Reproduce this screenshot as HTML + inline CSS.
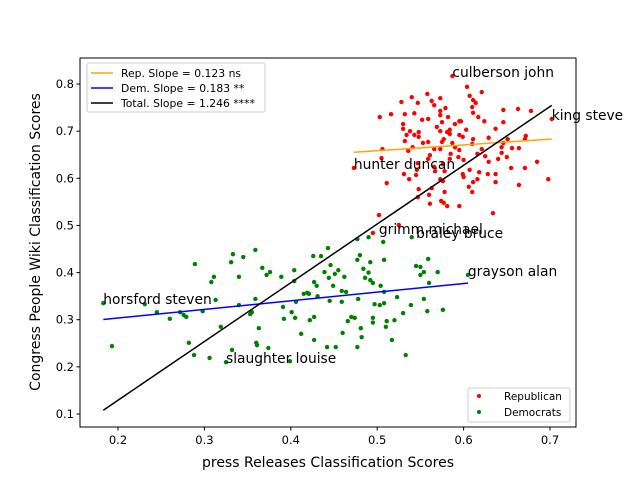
<!DOCTYPE html>
<html><head><meta charset="utf-8"><style>
body{margin:0;background:#fff}
text{font-family:"DejaVu Sans","Liberation Sans",sans-serif}
</style></head><body>
<svg id="chart" width="640" height="480" xmlns="http://www.w3.org/2000/svg">
<rect width="640" height="480" fill="#fff"/>
<g id="marks"></g>
<g id="axes"></g>
</svg>
<script>
const xTicks=[0.2,0.3,0.4,0.5,0.6,0.7];
const yTicks=[0.1,0.2,0.3,0.4,0.5,0.6,0.7,0.8];
const repX=[.587,.604,.621,.558,.540,.573,.607,.528,.547,.563,.611,.614,.566,.579,.610,.646,.663,.678,.516,.532,.543,.573,.611,.503,.573,.582,.617,.552,.559,.575,.595,.597,.624,.646,.530,.702,.590,.569,.530,.538,.548,.573,.581,.584,.603,.637,.534,.543,.548,.584,.595,.599,.577,.611,.672,.671,.651,.629,.532,.559,.553,.575,.587,.610,.646,.541,.566,.573,.590,.595,.621,.644,.656,.664,.506,.536,.561,.585,.616,.644,.625,.650,.594,.505,.559,.584,.600,.629,.640,.685,.473,.547,.566,.576,.655,.671,.546,.567,.578,.607,.618,.531,.545,.599,.628,.637,.537,.573,.600,.616,.698,.511,.576,.611,.637,.664,.548,.563,.606,.578,.610,.547,.560,.574,.577,.561,.581,.595,.634,.502,.525,.495];
const repY=[.817,.794,.783,.779,.772,.770,.775,.762,.760,.764,.766,.760,.755,.749,.751,.745,.747,.743,.736,.736,.738,.743,.739,.730,.734,.730,.730,.724,.726,.719,.721,.721,.721,.719,.715,.726,.715,.709,.705,.700,.698,.700,.698,.703,.703,.705,.692,.692,.688,.694,.692,.688,.683,.683,.690,.683,.683,.686,.679,.677,.675,.677,.675,.673,.675,.666,.662,.662,.666,.660,.662,.666,.664,.664,.662,.658,.649,.652,.652,.654,.647,.645,.645,.643,.641,.641,.639,.635,.641,.635,.622,.632,.624,.630,.622,.622,.618,.615,.615,.618,.613,.609,.607,.609,.609,.609,.598,.598,.603,.598,.598,.590,.594,.592,.592,.586,.577,.579,.582,.571,.571,.560,.565,.552,.548,.546,.541,.541,.526,.522,.501,.484];
const demX=[.183,.193,.231,.245,.260,.272,.276,.279,.282,.288,.289,.298,.306,.308,.311,.313,.319,.325,.332,.331,.333,.340,.345,.340,.353,.355,.359,.359,.360,.361,.363,.367,.372,.376,.374,.389,.391,.392,.399,.401,.404,.404,.405,.406,.412,.415,.419,.421,.422,.426,.427,.427,.427,.430,.431,.435,.439,.442,.443,.444,.445,.446,.449,.451,.452,.455,.459,.459,.460,.462,.464,.466,.470,.474,.477,.477,.477,.478,.480,.481,.482,.484,.486,.490,.490,.492,.492,.495,.495,.495,.497,.503,.504,.507,.508,.508,.508,.510,.511,.517,.520,.523,.530,.533,.539,.540,.545,.550,.550,.554,.554,.558,.559,.560,.570,.576,.605];
const demY=[.335,.244,.333,.316,.302,.316,.310,.306,.251,.225,.418,.318,.219,.380,.391,.342,.285,.210,.236,.422,.439,.391,.433,.331,.312,.316,.448,.344,.251,.246,.282,.410,.395,.401,.240,.391,.327,.302,.212,.316,.405,.382,.304,.338,.270,.355,.357,.355,.299,.435,.380,.306,.257,.372,.350,.435,.401,.242,.452,.389,.340,.416,.372,.397,.242,.405,.361,.338,.272,.391,.359,.297,.306,.304,.471,.242,.427,.344,.437,.282,.263,.408,.389,.400,.475,.422,.384,.378,.304,.294,.333,.331,.372,.465,.335,.427,.359,.285,.297,.257,.299,.348,.314,.225,.331,.475,.414,.395,.412,.344,.401,.318,.429,.378,.401,.321,.395];
const repSlope=0.123, repIntercept=0.597;
const demSlope=0.183, demIntercept=0.267;
const totSlope=1.246, totIntercept=-0.120;
const names=["culberson john","king steve","hunter duncan","grimm michael","braley bruce","grayson alan","horsford steven","slaughter louise"];
const nameX=[.587,.702,.473,.502,.545,.605,.183,.325];
const nameY=[.817,.726,.622,.484,.475,.395,.335,.210];

const L=80,R=576,T=58,B=427;
const x=v=>118+(v-0.2)*864;
const y=v=>414-(v-0.1)*471.4;
const NS='http://www.w3.org/2000/svg';
function mk(tag,attrs,parent){const e=document.createElementNS(NS,tag);for(const k in attrs)e.setAttribute(k,attrs[k]);parent.appendChild(e);return e;}
const marks=document.getElementById('marks'),axes=document.getElementById('axes');

for(let i=0;i<repX.length;i++){const c=mk('circle',{cx:x(repX[i]),cy:y(repY[i]),r:2.2,fill:'#ff0000'},marks);

}
for(let i=0;i<demX.length;i++){const c=mk('circle',{cx:x(demX[i]),cy:y(demY[i]),r:2.2,fill:'#008000'},marks);

}

function fit(xs,s,b,color,name){const a=Math.min(...xs),z=Math.max(...xs);
const l=mk('line',{x1:x(a),y1:y(s*a+b),x2:x(z),y2:y(s*z+b),stroke:color,'stroke-width':1.5},marks);

}
fit(repX,repSlope,repIntercept,'#ffa500','rep-fit-line');
fit(demX,demSlope,demIntercept,'#0000ff','dem-fit-line');
fit(repX.concat(demX),totSlope,totIntercept,'#000000','total-fit-line');

for(let i=0;i<names.length;i++){const t=mk('text',{x:x(nameX[i]),y:y(nameY[i])+1,'font-size':13.8,fill:'#000'},marks);t.textContent=names[i];

}

const fr=mk('rect',{x:L,y:T,width:R-L,height:B-T,fill:'none',stroke:'#000','stroke-width':1},axes);


xTicks.forEach(v=>{mk('line',{x1:x(v),y1:B,x2:x(v),y2:B+3.5,stroke:'#000'},axes);
const t=mk('text',{x:x(v),y:B+17,'font-size':11.5,'text-anchor':'middle'},axes);t.textContent=v.toFixed(1);

});
yTicks.forEach(v=>{mk('line',{x1:L-3.5,y1:y(v),x2:L,y2:y(v),stroke:'#000'},axes);
const t=mk('text',{x:L-6,y:y(v)+4,'font-size':11.5,'text-anchor':'end'},axes);t.textContent=v.toFixed(1);

});
</script>
<svg style="position:absolute;left:0;top:0" width="640" height="480">
<text x="328" y="467" font-size="14" text-anchor="middle" font-family="DejaVu Sans,sans-serif">press Releases Classification Scores</text>
<text transform="translate(40,242) rotate(-90)" font-size="14" text-anchor="middle" font-family="DejaVu Sans,sans-serif">Congress People Wiki Classification Scores</text>
<g font-family="DejaVu Sans,sans-serif" font-size="10.8">
<rect x="87" y="63" width="178" height="49" rx="2" fill="#fff" fill-opacity="0.8" stroke="#ccc"/>
<line x1="91" y1="73" x2="113" y2="73" stroke="#ffa500" stroke-width="1.5"/>
<text x="121" y="77">Rep. Slope = 0.123 ns</text>
<line x1="91" y1="88" x2="113" y2="88" stroke="#0000ff" stroke-width="1.5"/>
<text x="121" y="92">Dem. Slope = 0.183 **</text>
<line x1="91" y1="103" x2="113" y2="103" stroke="#000" stroke-width="1.5"/>
<text x="121" y="107">Total. Slope = 1.246 ****</text>
</g>
<g font-family="DejaVu Sans,sans-serif" font-size="10.5">
<rect x="468" y="388" width="102" height="34" rx="2" fill="#fff" fill-opacity="0.8" stroke="#ccc"/>
<circle cx="479" cy="396" r="2" fill="#ff0000"/>
<text x="504" y="400">Republican</text>
<circle cx="479" cy="412" r="2" fill="#008000"/>
<text x="504" y="416">Democrats</text>
</g>
</svg>
</body></html>
